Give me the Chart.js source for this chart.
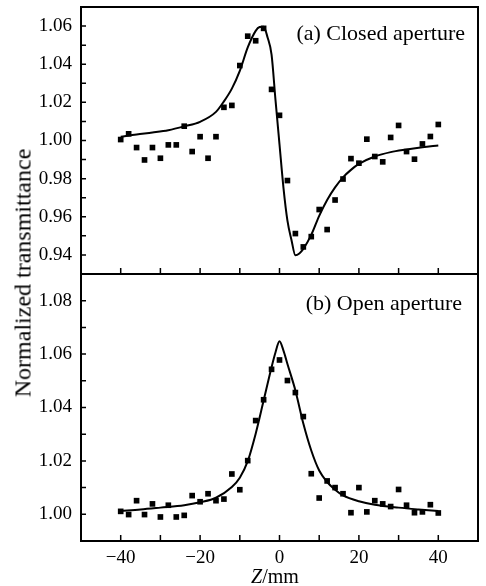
<!DOCTYPE html>
<html>
<head>
<meta charset="utf-8">
<script src="https://cdn.jsdelivr.net/npm/chart.js@4/dist/chart.umd.min.js"></script>
<style>
  body { margin: 0; background: #fff; }
  #wrap { position: relative; width: 486px; height: 586px; overflow: hidden; }
  canvas { position: absolute; left: 0; }
  #chartA { top: 0; }
  #chartB { top: 270px; }
  #ytitle {
    position: absolute; left: 23px; top: 273px;
    transform: translate(-50%, -50%) rotate(-90deg);
    font: 24px "Liberation Serif", serif; color: #000; white-space: nowrap;
  }
</style>
</head>
<body>
<div id="wrap">
  <canvas id="chartA" width="486" height="280"></canvas>
  <canvas id="chartB" width="486" height="316"></canvas>
  <div id="ytitle">Normalized transmittance</div>
</div>
<script>
// measured points, Z in mm
const zPoints = [-40, -38, -36, -34, -32, -30, -28, -26, -24, -22, -20, -18, -16, -14, -12, -10, -8, -6, -4, -2,
  0, 2, 4, 6, 8, 10, 12, 14, 16, 18, 20, 22, 24, 26, 28, 30, 32, 34, 36, 38, 40];
const closedPoints = [1.0005, 1.0035, 0.9963, 0.9898, 0.9963, 0.9907, 0.9977, 0.9977, 1.0075, 0.9942,
  1.0020, 0.9907, 1.0020, 1.0174, 1.0184, 1.0393, 1.0547, 1.0523, 1.0588, 1.0268,
  1.0132, 0.9790, 0.9512, 0.9442, 0.9496, 0.9638, 0.9533, 0.9688, 0.9798, 0.9905,
  0.9881, 1.0007, 0.9916, 0.9888, 1.0016, 1.0079, 0.9942, 0.9902, 0.9982, 1.0021, 1.0084];
const openPoints = [1.0011, 0.9999, 1.0051, 0.9999, 1.0039, 0.9990, 1.0034, 0.9990, 0.9996, 1.0070,
  1.0047, 1.0077, 1.0051, 1.0057, 1.0151, 1.0092, 1.0201, 1.0351, 1.0429, 1.0543,
  1.0578, 1.0501, 1.0456, 1.0366, 1.0152, 1.0061, 1.0125, 1.0100, 1.0077, 1.0006,
  1.0100, 1.0009, 1.0051, 1.0039, 1.0029, 1.0093, 1.0034, 1.0006, 1.0009, 1.0036, 1.0005];

// fitted curves
const closedFitZ = [-40, -36, -32, -28, -24, -20, -16, -14, -12, -10, -8, -6, -5, -4, -3, -2, -1,
  0, 1, 2, 3, 4, 5, 6, 8, 10, 12, 14, 16, 18, 20, 24, 28, 32, 36, 40];
const closedFit = [1.0020, 1.0032, 1.0042, 1.0054, 1.0074, 1.0098, 1.0150, 1.0205, 1.0272, 1.0365,
  1.0488, 1.0575, 1.0595, 1.0597, 1.0540, 1.0450, 1.0210,
  0.9980, 0.9752, 0.9580, 0.9480, 0.9398, 0.9408, 0.9432, 0.9505, 0.9605, 0.9688, 0.9754,
  0.9807, 0.9846, 0.9877, 0.9916, 0.9939, 0.9953, 0.9965, 0.9974];
const openFitZ = [-40, -35, -30, -24, -20, -16, -12, -10, -8, -6, -4, -2, -1,
  0, 1, 2, 4, 6, 8, 10, 12, 14, 16, 20, 24, 30, 35, 40];
const openFit = [1.0013, 1.0018, 1.0025, 1.0034, 1.0045, 1.0062, 1.0102, 1.0137, 1.0199, 1.0302,
  1.0426, 1.0551, 1.0607, 1.0648, 1.0613, 1.0563, 1.0464, 1.0340, 1.0239, 1.0164, 1.0121,
  1.0092, 1.0071, 1.0049, 1.0036, 1.0025, 1.0018, 1.0012];

// ticks
const xTickLabels = [-40, -20, 0, 20, 40];
const xMinorTicks = [-40, -30, -20, -10, 0, 10, 20, 30, 40];
const yTickLabelsA = [0.94, 0.96, 0.98, 1.00, 1.02, 1.04, 1.06];
const yMinorTicksA = [0.94, 0.95, 0.96, 0.97, 0.98, 0.99, 1.00, 1.01, 1.02, 1.03, 1.04, 1.05, 1.06];
const yTickLabelsB = [1.00, 1.02, 1.04, 1.06, 1.08];
const yMinorTicksB = [1.00, 1.01, 1.02, 1.03, 1.04, 1.05, 1.06, 1.07, 1.08];

const SERIF = '"Liberation Serif", "Times New Roman", serif';
Chart.defaults.font.family = SERIF;
Chart.defaults.font.size = 19;
Chart.defaults.color = '#000';

function toXY(xs, ys) {
  return xs.map((x, i) => ({ x: x, y: ys[i] }));
}

// frame, inward ticks, panel label, x title
const framePlugin = {
  id: 'frame',
  afterDraw(chart, args, opts) {
    const { ctx, chartArea: a, scales } = chart;
    ctx.save();
    ctx.strokeStyle = '#000';
    ctx.lineWidth = 1.5;
    ctx.beginPath();
    xMinorTicks.forEach((v) => {
      const x = scales.x.getPixelForValue(v);
      ctx.moveTo(x, a.bottom);
      ctx.lineTo(x, a.bottom - 6);
    });
    opts.yTicks.forEach((v) => {
      const y = scales.y.getPixelForValue(v);
      ctx.moveTo(a.left, y);
      ctx.lineTo(a.left + 5, y);
    });
    ctx.stroke();

    ctx.lineWidth = 2;
    ctx.strokeRect(a.left, a.top, a.right - a.left, a.bottom - a.top);

    ctx.fillStyle = '#000';
    ctx.textAlign = 'right';
    ctx.textBaseline = 'alphabetic';
    ctx.font = '22px ' + SERIF;
    ctx.fillText(opts.label, opts.labelX, opts.labelY);

    if (opts.xTitle) {
      ctx.font = 'italic 20px ' + SERIF;
      const wz = ctx.measureText('Z').width;
      ctx.font = '20px ' + SERIF;
      const wr = ctx.measureText('/mm').width;
      const x0 = 275 - (wz + wr) / 2;
      ctx.textAlign = 'left';
      ctx.font = 'italic 20px ' + SERIF;
      ctx.fillText('Z', x0, opts.xTitleY);
      ctx.font = '20px ' + SERIF;
      ctx.fillText('/mm', x0 + wz, opts.xTitleY);
    }
    ctx.restore();
  }
};

function yScale(min, max, tickList) {
  return {
    type: 'linear',
    min: min,
    max: max,
    afterBuildTicks: (s) => { s.ticks = tickList.map((v) => ({ value: v })); },
    afterFit: (s) => { s.width = 81; s.paddingTop = 0; s.paddingBottom = 0; },
    grid: { display: false, drawTicks: false },
    border: { display: false },
    ticks: { padding: 9, callback: (v) => v.toFixed(2) }
  };
}

function datasets(pointsY, fitX, fitY) {
  return [
    {
      data: toXY(zPoints, pointsY),
      showLine: false,
      pointStyle: 'rect',
      pointRadius: 4,
      pointBorderWidth: 0,
      pointBackgroundColor: '#000'
    },
    {
      data: toXY(fitX, fitY),
      showLine: true,
      pointRadius: 0,
      borderColor: '#000',
      borderWidth: 2,
      cubicInterpolationMode: 'monotone'
    }
  ];
}

new Chart(document.getElementById('chartA'), {
  type: 'scatter',
  data: { datasets: datasets(closedPoints, closedFitZ, closedFit) },
  options: {
    responsive: false,
    animation: false,
    layout: { autoPadding: false, padding: { top: 7, right: 8, bottom: 6, left: 0 } },
    plugins: {
      legend: { display: false },
      tooltip: { enabled: false },
      frame: { yTicks: yMinorTicksA, label: '(a) Closed aperture', labelX: 465, labelY: 40 }
    },
    scales: {
      x: { type: 'linear', min: -50, max: 50, display: false },
      y: yScale(0.93, 1.07, yTickLabelsA)
    }
  },
  plugins: [framePlugin]
});

new Chart(document.getElementById('chartB'), {
  type: 'scatter',
  data: { datasets: datasets(openPoints, openFitZ, openFit) },
  options: {
    responsive: false,
    animation: false,
    layout: { autoPadding: false, padding: { top: 4, right: 8, bottom: 0, left: 0 } },
    plugins: {
      legend: { display: false },
      tooltip: { enabled: false },
      frame: {
        yTicks: yMinorTicksB, label: '(b) Open aperture', labelX: 462, labelY: 40,
        xTitle: true, xTitleY: 313
      }
    },
    scales: {
      x: {
        type: 'linear',
        min: -50,
        max: 50,
        afterBuildTicks: (s) => { s.ticks = xTickLabels.map((v) => ({ value: v })); },
        afterFit: (s) => { s.height = 45; s.paddingLeft = 0; s.paddingRight = 0; },
        grid: { display: false, drawTicks: false },
        border: { display: false },
        ticks: { padding: 6, maxRotation: 0, callback: (v) => (v < 0 ? '\u2212' + Math.abs(v) : String(v)) }
      },
      y: yScale(0.99, 1.09, yTickLabelsB)
    }
  },
  plugins: [framePlugin]
});
</script>
</body>
</html>
